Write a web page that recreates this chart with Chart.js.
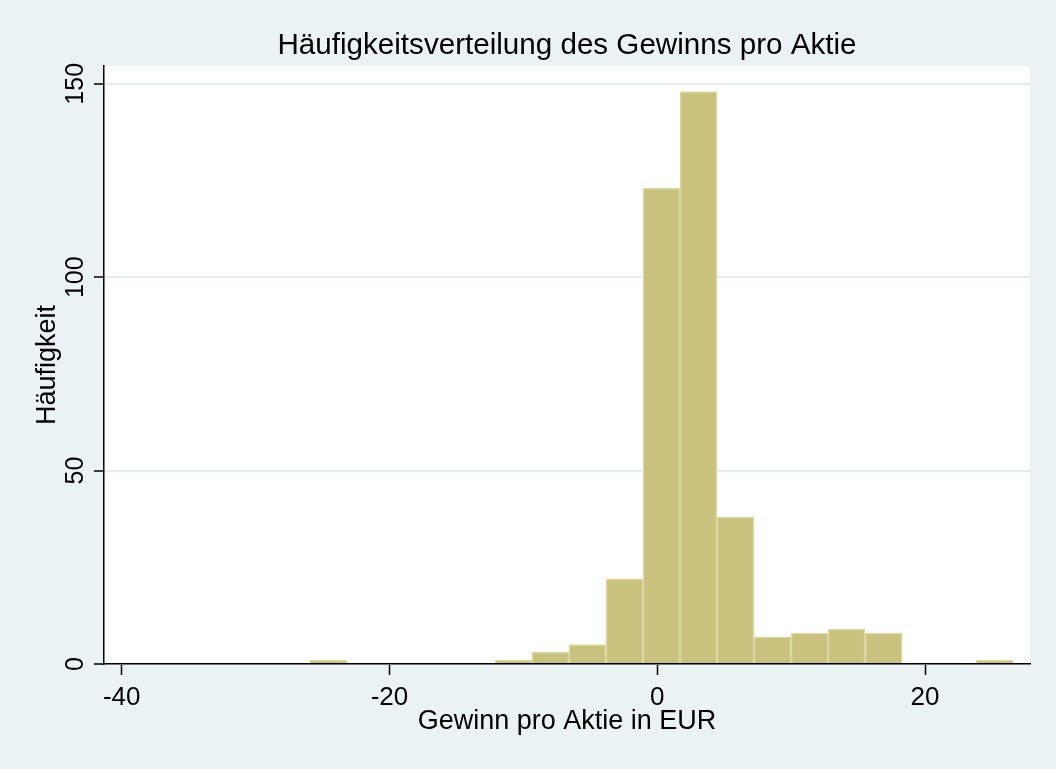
<!DOCTYPE html>
<html>
<head>
<meta charset="utf-8">
<script src="https://cdn.jsdelivr.net/npm/chart.js@4.4.1/dist/chart.umd.min.js"></script>
<style>
html, body { margin: 0; padding: 0; background: #eaf2f3; }
#wrap { width: 1056px; height: 769px; }
</style>
</head>
<body>
<div id="wrap"><canvas id="hist" width="1056" height="769"></canvas></div>
<script>
// bin centres in EUR (empty bins left out)
const binCenters = [-24.57, -10.74, -7.98, -5.21, -2.45, 0.32, 3.08, 5.85, 8.61, 11.38, 14.14, 16.91, 25.20];
const frequencies = [1, 1, 3, 5, 22, 123, 148, 38, 7, 8, 9, 8, 1];
const xTicks = [-40, -20, 0, 20];
const yTicks = [0, 50, 100, 150];
const chartTitle = 'Häufigkeitsverteilung des Gewinns pro Aktie';

const FONT = '"Liberation Sans", Arial, sans-serif';

// light blue-grey frame, white plot region, title centred over the plot region
const plotBackground = {
    id: 'plotBackground',
    beforeDraw(chart) {
        const { ctx, chartArea: a } = chart;
        ctx.save();
        ctx.fillStyle = '#eaf2f3';
        ctx.fillRect(0, 0, chart.width, chart.height);
        ctx.fillStyle = '#ffffff';
        ctx.fillRect(a.left, a.top, a.right - a.left, a.bottom - a.top);
        ctx.fillStyle = '#000';
        ctx.font = '29.6px ' + FONT;
        ctx.textAlign = 'center';
        ctx.textBaseline = 'alphabetic';
        ctx.fillText(chartTitle, (a.left + a.right) / 2, 53.5);
        ctx.restore();
    }
};

const ctx = document.getElementById('hist').getContext('2d');
const chart = new Chart(ctx, {
    type: 'bar',
    data: {
        datasets: [{
            label: 'Häufigkeit',
            data: binCenters.map((x, i) => ({ x: x, y: frequencies[i] })),
            backgroundColor: '#c9c27e',
            borderColor: '#dcd7a6',
            borderWidth: 1.5,
            borderSkipped: 'start',
            barPercentage: 1,
            categoryPercentage: 1
        }]
    },
    options: {
        responsive: false,
        devicePixelRatio: 1,
        animation: false,
        layout: { padding: { left: 0, right: 26, top: 66, bottom: 0 } },
        scales: {
            x: {
                type: 'linear',
                min: -41.32,
                max: 27.84,
                offset: false,
                afterBuildTicks: s => { s.ticks = xTicks.map(v => ({ value: v })); },
                afterFit: s => { s.height = 105; },
                grid: { offset: false, drawOnChartArea: false, tickLength: 11, tickColor: '#000', tickWidth: 1.5 },
                border: { color: '#000', width: 1.5 },
                ticks: { color: '#000', font: { family: FONT, size: 26 }, padding: 7, maxRotation: 0 },
                title: {
                    display: true,
                    text: 'Gewinn pro Aktie in EUR',
                    color: '#000',
                    font: { family: FONT, size: 27 },
                    padding: { top: 0, bottom: 31 }
                }
            },
            y: {
                min: 0,
                max: 154.6,
                afterBuildTicks: s => { s.ticks = yTicks.map(v => ({ value: v })); },
                afterFit: s => { s.width = 104; },
                grid: { color: '#e4edf0', lineWidth: 2, tickLength: 10, tickColor: '#000', tickWidth: 1.5 },
                border: { color: '#000', width: 1.5 },
                ticks: {
                    color: '#000',
                    font: { family: FONT, size: 25 },
                    minRotation: 90,
                    maxRotation: 90,
                    crossAlign: 'center',
                    padding: -2.5
                },
                title: {
                    display: true,
                    text: 'Häufigkeit',
                    color: '#000',
                    font: { family: FONT, size: 27 },
                    padding: { top: 31, bottom: 0 }
                }
            }
        },
        plugins: {
            legend: { display: false },
            tooltip: { enabled: false },
            title: { display: false }
        }
    },
    plugins: [plotBackground]
});
</script>
</body>
</html>
